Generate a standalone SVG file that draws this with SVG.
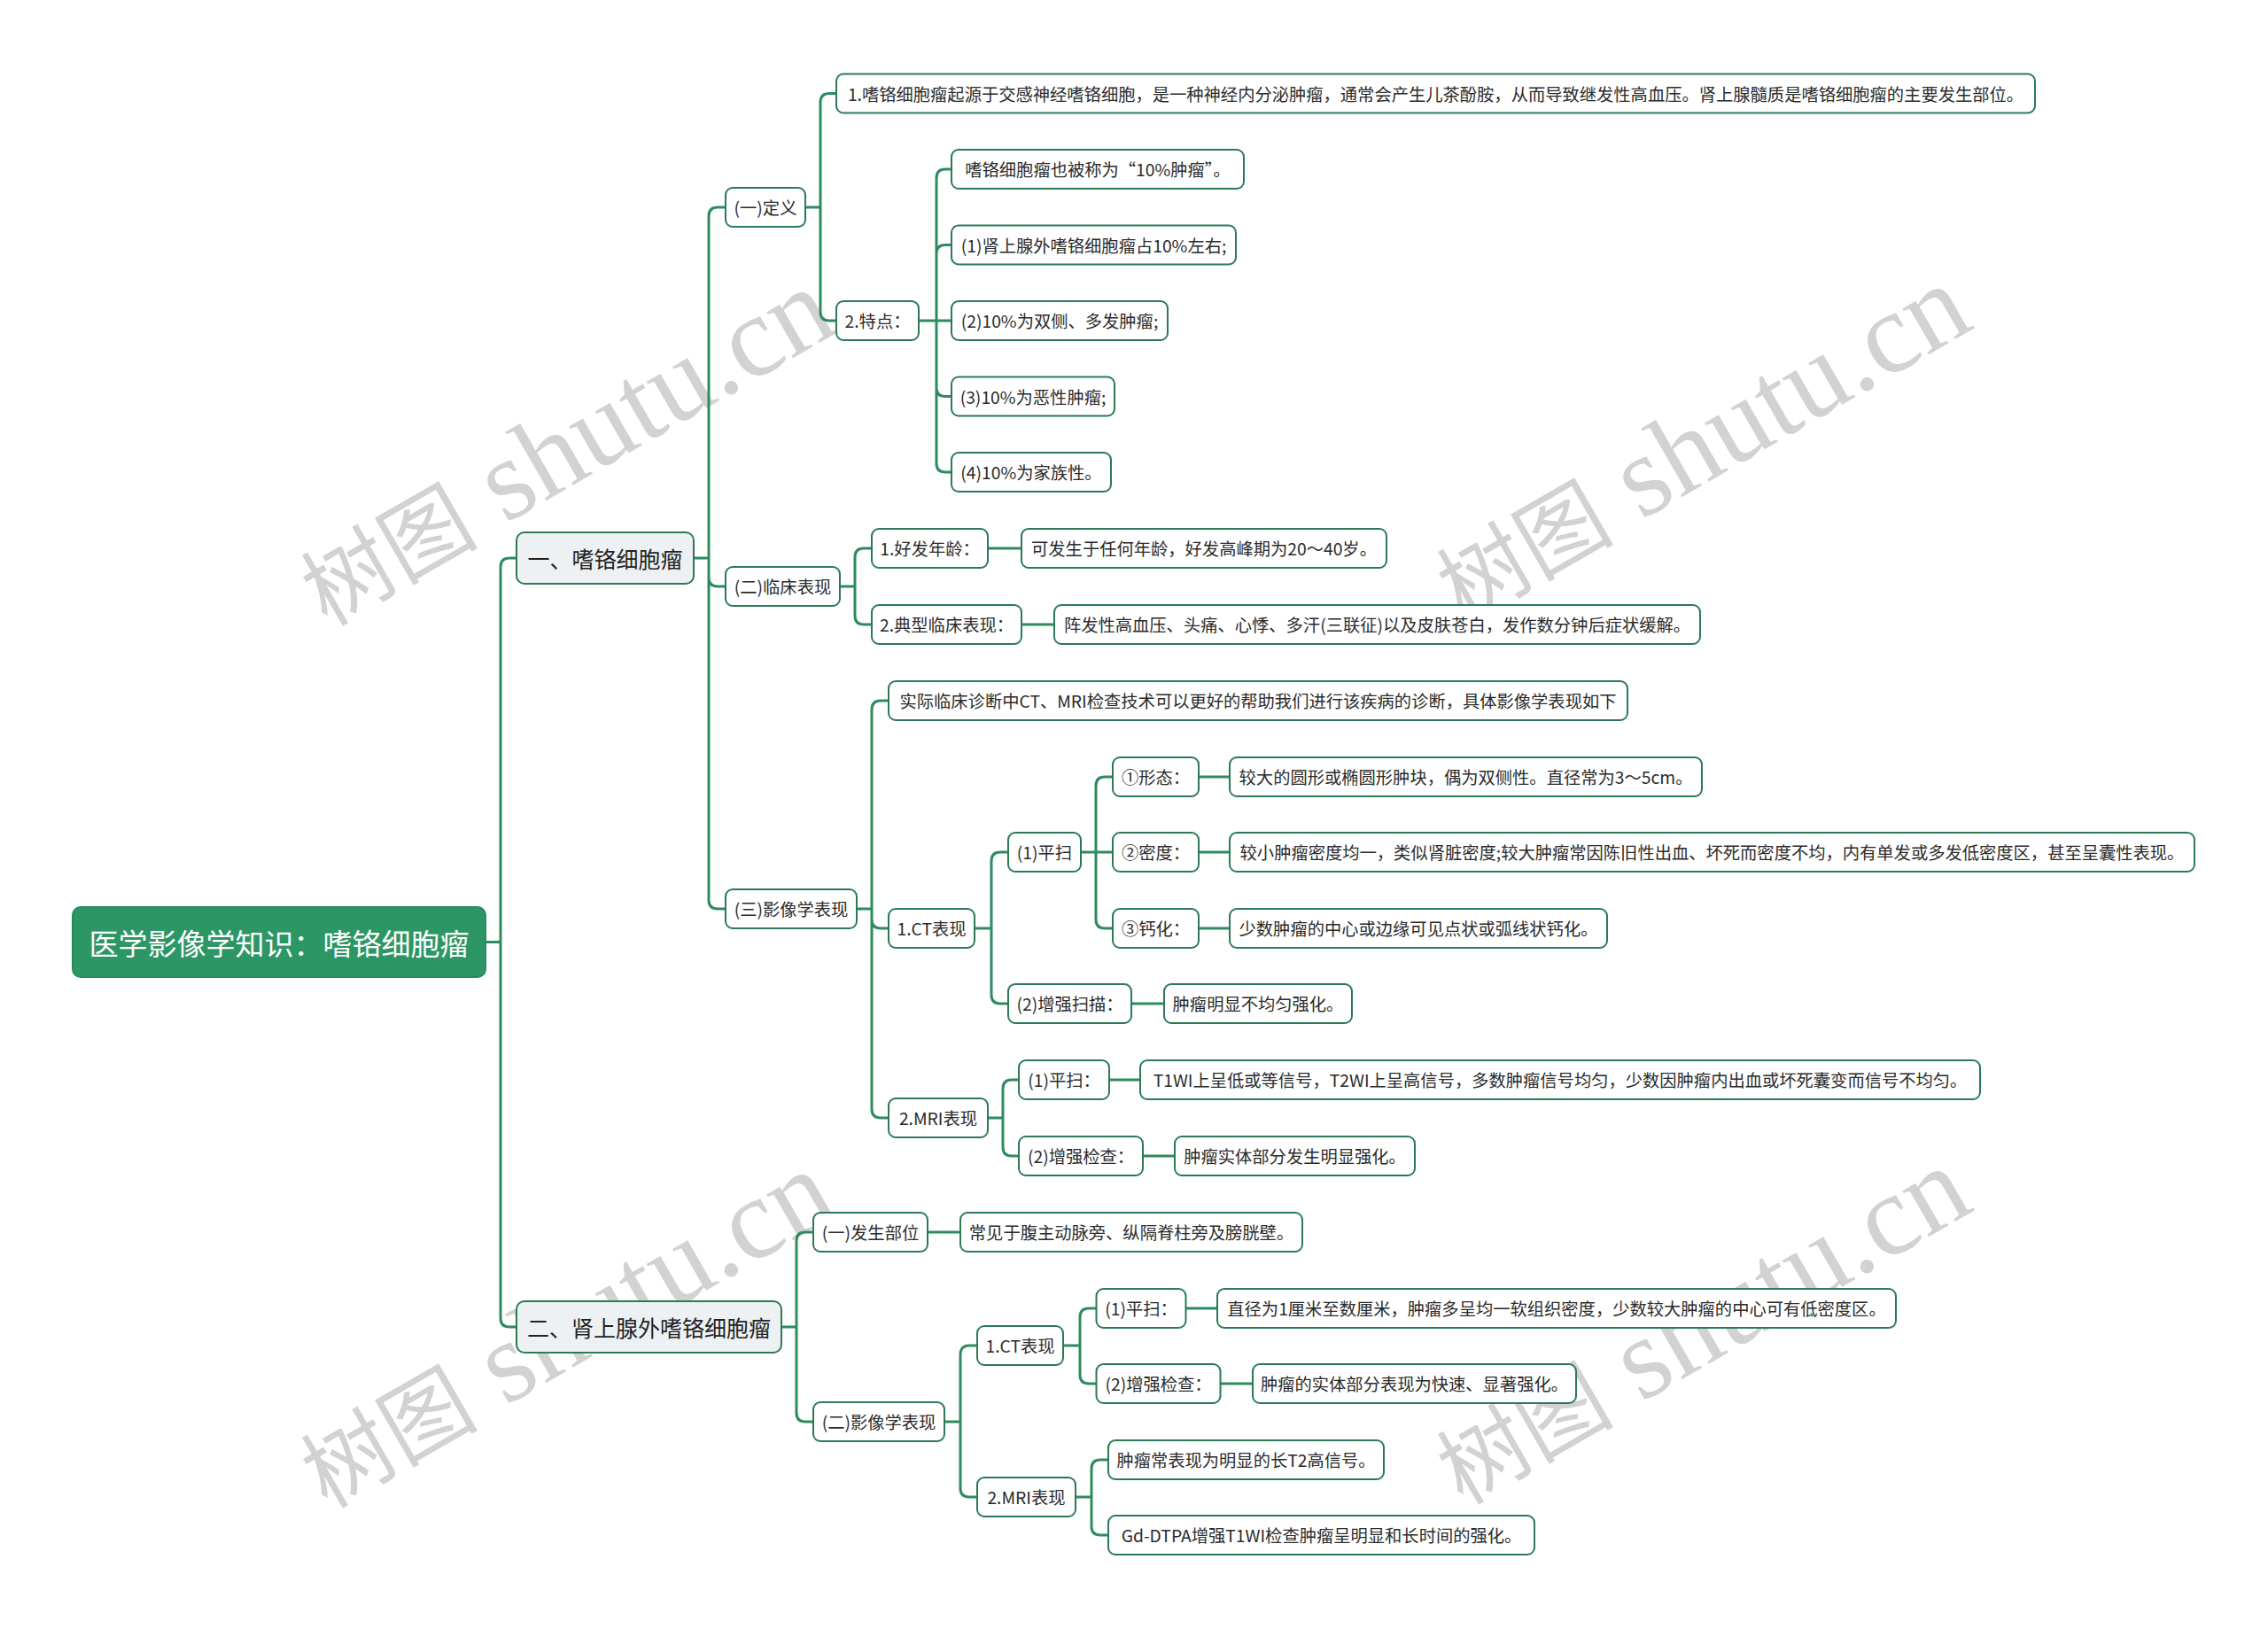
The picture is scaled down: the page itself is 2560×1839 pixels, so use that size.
<svg xmlns="http://www.w3.org/2000/svg" width="2560" height="1839" viewBox="0 0 2560 1839">
<style>
.bg{fill:#ffffff}
.wm{fill:#d2d2d2;font-family:"Liberation Serif","Noto Sans CJK SC",serif}
.ln{fill:none;stroke:#2e8b5f;stroke-width:3}
.n rect{fill:#ffffff;stroke:#2b7a55;stroke-width:2}
.n text{fill:#2b2b2b;font-family:"Noto Sans CJK SC","Noto Sans",sans-serif;font-size:19.3px;text-anchor:middle;dominant-baseline:central}
.l1 rect{fill:#edf1f4;stroke:#2b7a55;stroke-width:2}
.l1 text{fill:#222222;font-family:"Noto Sans CJK SC","Noto Sans",sans-serif;font-size:25px;text-anchor:middle;dominant-baseline:central}
.root rect{fill:#2c9665;stroke:#2a8a5c;stroke-width:2}
.root text{fill:#ffffff;font-family:"Noto Sans CJK SC","Noto Sans",sans-serif;font-size:33px;text-anchor:middle;dominant-baseline:central}
</style>
<rect class="bg" x="0" y="0" width="2560" height="1839"/>
<g id="watermarks">
<text class="wm" transform="translate(369,708) rotate(-30)"><tspan font-size="100">树图</tspan><tspan font-size="130"> shutu.cn</tspan></text>
<text class="wm" transform="translate(1651,704) rotate(-30)"><tspan font-size="100">树图</tspan><tspan font-size="130"> shutu.cn</tspan></text>
<text class="wm" transform="translate(369,1704) rotate(-30)"><tspan font-size="100">树图</tspan><tspan font-size="130"> shutu.cn</tspan></text>
<text class="wm" transform="translate(1651,1700) rotate(-30)"><tspan font-size="100">树图</tspan><tspan font-size="130"> shutu.cn</tspan></text>
</g>
<g id="connectors">
<path class="ln" d="M548 1063.5 H565 M565 1063.5 V640 Q565 630 575 630 H583 M565 1063.5 V1488 Q565 1498 575 1498 H583"/>
<path class="ln" d="M783 630 H800 M800 630 V244 Q800 234 810 234 H819 M800 630 V652 Q800 662 810 662 H819 M800 630 V1016 Q800 1026 810 1026 H819"/>
<path class="ln" d="M909 234 H926 M926 234 V115.5 Q926 105.5 936 105.5 H944 M926 234 V352 Q926 362 936 362 H944"/>
<path class="ln" d="M1037 362 H1074 M1057 362 V201 Q1057 191 1067 191 H1074 M1057 362 V286.5 Q1057 276.5 1067 276.5 H1074 M1057 362 V437.5 Q1057 447.5 1067 447.5 H1074 M1057 362 V523 Q1057 533 1067 533 H1074"/>
<path class="ln" d="M948 662 H965 M965 662 V629 Q965 619 975 619 H984 M965 662 V695 Q965 705 975 705 H984 M1115 619 H1153 M1153 705 H1190"/>
<path class="ln" d="M967 1026 H984 M984 1026 V801 Q984 791 994 791 H1003 M984 1026 V1038 Q984 1048 994 1048 H1003 M984 1026 V1252 Q984 1262 994 1262 H1003"/>
<path class="ln" d="M1100 1048 H1119 M1119 1048 V972 Q1119 962 1129 962 H1138 M1119 1048 V1123 Q1119 1133 1129 1133 H1138"/>
<path class="ln" d="M1220 962 H1256 M1237 962 V887 Q1237 877 1247 877 H1256 M1237 962 V1038 Q1237 1048 1247 1048 H1256 M1353 877 H1388 M1353 962 H1388 M1353 1048 H1388 M1277 1133 H1314"/>
<path class="ln" d="M1115 1262 H1132 M1132 1262 V1229 Q1132 1219 1142 1219 H1150 M1132 1262 V1295 Q1132 1305 1142 1305 H1150 M1252 1219 H1287 M1290 1305 H1326"/>
<path class="ln" d="M882 1498 H899 M899 1498 V1401 Q899 1391 909 1391 H918 M899 1498 V1595 Q899 1605 909 1605 H918 M1047 1391 H1084"/>
<path class="ln" d="M1066 1605 H1084 M1084 1605 V1529 Q1084 1519 1094 1519 H1103 M1084 1605 V1680 Q1084 1690 1094 1690 H1103"/>
<path class="ln" d="M1200 1519 H1219 M1219 1519 V1487 Q1219 1477 1229 1477 H1237.5 M1219 1519 V1552 Q1219 1562 1229 1562 H1237.5 M1338.5 1477 H1374 M1377.5 1562 H1414"/>
<path class="ln" d="M1214 1690 H1232 M1232 1690 V1658 Q1232 1648 1242 1648 H1251 M1232 1690 V1723 Q1232 1733 1242 1733 H1251"/>
</g>
<g id="root" class="root"><rect x="82" y="1024" width="466" height="79" rx="9"/><text x="315" y="1063.5">医学影像学知识：嗜铬细胞瘤</text></g>
<g id="n1" class="l1"><rect x="583" y="601" width="200" height="58" rx="9"/><text x="683" y="630">一、嗜铬细胞瘤</text></g>
<g id="n2" class="l1"><rect x="583" y="1469" width="299" height="58" rx="9"/><text x="732.5" y="1498">二、肾上腺外嗜铬细胞瘤</text></g>

<g id="n1-1" class="n"><rect x="819" y="212" width="90" height="44" rx="8"/><text x="864" y="234">(一)定义</text></g>
<g id="n1-1-1" class="n"><rect x="944" y="83.5" width="1353" height="44" rx="8"/><text x="1620.5" y="105.5">1.嗜铬细胞瘤起源于交感神经嗜铬细胞，是一种神经内分泌肿瘤，通常会产生儿茶酚胺，从而导致继发性高血压。肾上腺髓质是嗜铬细胞瘤的主要发生部位。</text></g>
<g id="n1-1-2" class="n"><rect x="944" y="340" width="93" height="44" rx="8"/><text x="990.5" y="362">2.特点：</text></g>
<g id="n1-1-2-1" class="n"><rect x="1074" y="169" width="330" height="44" rx="8"/><text x="1239" y="191">嗜铬细胞瘤也被称为“10%肿瘤”。</text></g>
<g id="n1-1-2-2" class="n"><rect x="1074" y="254.5" width="321" height="44" rx="8"/><text x="1234.5" y="276.5">(1)肾上腺外嗜铬细胞瘤占10%左右;</text></g>
<g id="n1-1-2-3" class="n"><rect x="1074" y="340" width="244" height="44" rx="8"/><text x="1196" y="362">(2)10%为双侧、多发肿瘤;</text></g>
<g id="n1-1-2-4" class="n"><rect x="1074" y="425.5" width="184" height="44" rx="8"/><text x="1166" y="447.5">(3)10%为恶性肿瘤;</text></g>
<g id="n1-1-2-5" class="n"><rect x="1074" y="511" width="180" height="44" rx="8"/><text x="1164" y="533">(4)10%为家族性。</text></g>

<g id="n1-2" class="n"><rect x="819" y="640" width="129" height="44" rx="8"/><text x="883.5" y="662">(二)临床表现</text></g>
<g id="n1-2-1" class="n"><rect x="984" y="597" width="131" height="44" rx="8"/><text x="1049.5" y="619">1.好发年龄：</text></g>
<g id="n1-2-1-1" class="n"><rect x="1153" y="597" width="412" height="44" rx="8"/><text x="1359" y="619">可发生于任何年龄，好发高峰期为20～40岁。</text></g>
<g id="n1-2-2" class="n"><rect x="984" y="683" width="169" height="44" rx="8"/><text x="1068.5" y="705">2.典型临床表现：</text></g>
<g id="n1-2-2-1" class="n"><rect x="1190" y="683" width="729" height="44" rx="8"/><text x="1554.5" y="705">阵发性高血压、头痛、心悸、多汗(三联征)以及皮肤苍白，发作数分钟后症状缓解。</text></g>

<g id="n1-3" class="n"><rect x="819" y="1004" width="148" height="44" rx="8"/><text x="893" y="1026">(三)影像学表现</text></g>
<g id="n1-3-1" class="n"><rect x="1003" y="769" width="834" height="44" rx="8"/><text x="1420" y="791">实际临床诊断中CT、MRI检查技术可以更好的帮助我们进行该疾病的诊断，具体影像学表现如下</text></g>
<g id="n1-3-2" class="n"><rect x="1003" y="1026" width="97" height="44" rx="8"/><text x="1051.5" y="1048">1.CT表现</text></g>
<g id="n1-3-2-1" class="n"><rect x="1138" y="940" width="82" height="44" rx="8"/><text x="1179" y="962">(1)平扫</text></g>
<g id="n1-3-2-1-1" class="n"><rect x="1256" y="855" width="97" height="44" rx="8"/><text x="1304.5" y="877">①形态：</text></g>
<g id="n1-3-2-1-1a" class="n"><rect x="1388" y="855" width="533" height="44" rx="8"/><text x="1654.5" y="877">较大的圆形或椭圆形肿块，偶为双侧性。直径常为3～5cm。</text></g>
<g id="n1-3-2-1-2" class="n"><rect x="1256" y="940" width="97" height="44" rx="8"/><text x="1304.5" y="962">②密度：</text></g>
<g id="n1-3-2-1-2a" class="n"><rect x="1388" y="940" width="1089" height="44" rx="8"/><text x="1932.5" y="962">较小肿瘤密度均一，类似肾脏密度;较大肿瘤常因陈旧性出血、坏死而密度不均，内有单发或多发低密度区，甚至呈囊性表现。</text></g>
<g id="n1-3-2-1-3" class="n"><rect x="1256" y="1026" width="97" height="44" rx="8"/><text x="1304.5" y="1048">③钙化：</text></g>
<g id="n1-3-2-1-3a" class="n"><rect x="1388" y="1026" width="426" height="44" rx="8"/><text x="1601" y="1048">少数肿瘤的中心或边缘可见点状或弧线状钙化。</text></g>
<g id="n1-3-2-2" class="n"><rect x="1138" y="1111" width="139" height="44" rx="8"/><text x="1207.5" y="1133">(2)增强扫描：</text></g>
<g id="n1-3-2-2a" class="n"><rect x="1314" y="1111" width="212" height="44" rx="8"/><text x="1420" y="1133">肿瘤明显不均匀强化。</text></g>
<g id="n1-3-3" class="n"><rect x="1003" y="1240" width="112" height="44" rx="8"/><text x="1059" y="1262">2.MRI表现</text></g>
<g id="n1-3-3-1" class="n"><rect x="1150" y="1197" width="102" height="44" rx="8"/><text x="1201" y="1219">(1)平扫：</text></g>
<g id="n1-3-3-1a" class="n"><rect x="1287" y="1197" width="948" height="44" rx="8"/><text x="1761" y="1219">T1WI上呈低或等信号，T2WI上呈高信号，多数肿瘤信号均匀，少数因肿瘤内出血或坏死囊变而信号不均匀。</text></g>
<g id="n1-3-3-2" class="n"><rect x="1150" y="1283" width="140" height="44" rx="8"/><text x="1220" y="1305">(2)增强检查：</text></g>
<g id="n1-3-3-2a" class="n"><rect x="1326" y="1283" width="271" height="44" rx="8"/><text x="1461.5" y="1305">肿瘤实体部分发生明显强化。</text></g>

<g id="n2-1" class="n"><rect x="918" y="1369" width="129" height="44" rx="8"/><text x="982.5" y="1391">(一)发生部位</text></g>
<g id="n2-1a" class="n"><rect x="1084" y="1369" width="386" height="44" rx="8"/><text x="1277" y="1391">常见于腹主动脉旁、纵隔脊柱旁及膀胱壁。</text></g>
<g id="n2-2" class="n"><rect x="918" y="1583" width="148" height="44" rx="8"/><text x="992" y="1605">(二)影像学表现</text></g>
<g id="n2-2-1" class="n"><rect x="1103" y="1497" width="97" height="44" rx="8"/><text x="1151.5" y="1519">1.CT表现</text></g>
<g id="n2-2-1-1" class="n"><rect x="1237.5" y="1455" width="101" height="44" rx="8"/><text x="1288" y="1477">(1)平扫：</text></g>
<g id="n2-2-1-1a" class="n"><rect x="1374" y="1455" width="766" height="44" rx="8"/><text x="1757" y="1477">直径为1厘米至数厘米，肿瘤多呈均一软组织密度，少数较大肿瘤的中心可有低密度区。</text></g>
<g id="n2-2-1-2" class="n"><rect x="1237.5" y="1540" width="140" height="44" rx="8"/><text x="1307.5" y="1562">(2)增强检查：</text></g>
<g id="n2-2-1-2a" class="n"><rect x="1414" y="1540" width="365" height="44" rx="8"/><text x="1596.5" y="1562">肿瘤的实体部分表现为快速、显著强化。</text></g>
<g id="n2-2-2" class="n"><rect x="1103" y="1668" width="111" height="44" rx="8"/><text x="1158.5" y="1690">2.MRI表现</text></g>
<g id="n2-2-2-1" class="n"><rect x="1251" y="1626" width="311" height="44" rx="8"/><text x="1406.5" y="1648">肿瘤常表现为明显的长T2高信号。</text></g>
<g id="n2-2-2-2" class="n"><rect x="1251" y="1711" width="481" height="44" rx="8"/><text x="1491.5" y="1733">Gd-DTPA增强T1WI检查肿瘤呈明显和长时间的强化。</text></g>
</svg>
